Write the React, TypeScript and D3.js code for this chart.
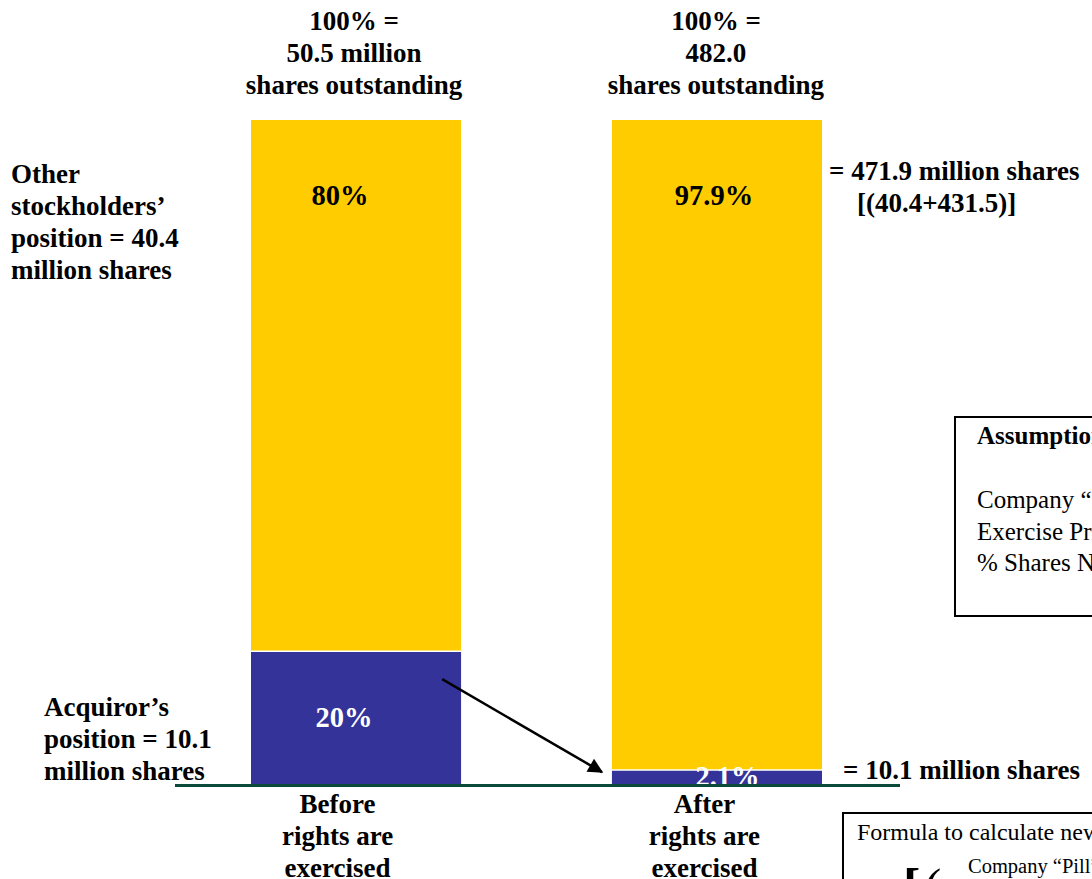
import React from "react";
import * as d3 from "d3";

// ---------- data ----------
const stages = ["Before", "After"];
const otherPct = [80, 97.9];
const acquirorPct = [20, 2.1];
const otherLabels = ["80%", "97.9%"];
const acquirorLabels = ["20%", "2.1%"];
const headerLines = [
  ["100% =", "50.5 million", "shares outstanding"],
  ["100% =", "482.0", "shares outstanding"],
];
const footerLines = [
  ["Before", "rights are", "exercised"],
  ["After", "rights are", "exercised"],
];
const leftOtherLines = ["Other", "stockholders’", "position = 40.4", "million shares"];
const leftAcqLines = ["Acquiror’s", "position = 10.1", "million shares"];
const rightOtherLines = ["= 471.9 million shares", "[(40.4+431.5)]"];
const rightAcqLine = "= 10.1 million shares";
const assumptionTitle = "Assumptions";
const assumptionLines = [
  "Company “Pill” Price = $10",
  "Exercise Price = $50",
  "% Shares Not Tendered",
];
const formulaTitle = "Formula to calculate new shares";
const formulaSub = "Company “Pill” Price";

const YELLOW = "#FFCC00";
const BLUE = "#333399";
const FONT = "'Liberation Serif', 'Times New Roman', serif";

export default function App() {
  const W = 1092;
  const H = 879;

  const x = d3.scaleBand<string>().domain(stages).range([251, 822]).paddingInner(0.418).paddingOuter(0);
  const y = d3.scaleLinear().domain([0, 100]).range([784, 120]);
  const bw = x.bandwidth();

  const rows = stages.map((s, i) => ({ stage: s, acquiror: acquirorPct[i], other: otherPct[i] }));
  const series = d3.stack<any>().keys(["acquiror", "other"])(rows);

  // layout tweaks (text offsets relative to bar centers)
  const headerDx = [-2, -1];
  const footerDx = [-18.5, -12.5];
  const otherDx = [-16, -3];
  const acqDx = [-12, 10.5];

  const cx = (i: number) => (x(stages[i]) as number) + bw / 2;

  const arrowStart: [number, number] = [(x(stages[0]) as number) + bw * 0.91, y(acquirorPct[0]) + 28];
  const arrowEnd: [number, number] = [(x(stages[1]) as number) - 10, y(acquirorPct[1]) + 2];

  const bold = { fontFamily: FONT, fontWeight: 700, fontSize: 27, fill: "#000" } as const;
  const lh = 32;

  return (
    <svg
      width={W}
      height={H}
      viewBox={`0 0 ${W} ${H}`}
      style={{ position: "absolute", left: 0, top: 0, display: "block", background: "#fff" }}
    >
      <defs>
        <marker
          id="arrowHead"
          viewBox="0 0 10 10"
          refX="9"
          refY="5"
          markerWidth="7"
          markerHeight="6"
          markerUnits="strokeWidth"
          orient="auto"
        >
          <path d="M0,0 L10,5 L0,10 Z" fill="#000" />
        </marker>
      </defs>

      {/* bars */}
      {series.map((ser) =>
        ser.map((d, i) => (
          <rect
            key={ser.key + i}
            x={x(stages[i]) as number}
            y={y(d[1])}
            width={bw}
            height={Math.max(0, y(d[0]) - y(d[1]))}
            fill={ser.key === "other" ? YELLOW : BLUE}
          />
        ))
      )}
      {/* white separators between segments */}
      {stages.map((s, i) => (
        <line
          key={"sep" + i}
          x1={x(s) as number}
          x2={(x(s) as number) + bw}
          y1={y(acquirorPct[i])}
          y2={y(acquirorPct[i])}
          stroke="#fff"
          strokeWidth={1.5}
        />
      ))}

      {/* segment labels */}
      {stages.map((s, i) => (
        <text key={"ol" + i} x={cx(i) + otherDx[i]} y={y(100) + 85} textAnchor="middle" style={{ ...bold, fontSize: 28.5 }}>
          {otherLabels[i]}
        </text>
      ))}
      {stages.map((s, i) => (
        <text
          key={"al" + i}
          x={cx(i) + acqDx[i]}
          y={(y(0) + y(acquirorPct[i])) / 2 + 9}
          textAnchor="middle"
          style={{ ...bold, fontSize: 28.5, fill: "#fff" }}
        >
          {acquirorLabels[i]}
        </text>
      ))}

      {/* baseline */}
      <line x1={175} x2={900} y1={785.5} y2={785.5} stroke="#0B4A3A" strokeWidth={3} />

      {/* arrow */}
      <line
        x1={arrowStart[0]}
        y1={arrowStart[1]}
        x2={arrowEnd[0]}
        y2={arrowEnd[1]}
        stroke="#000"
        strokeWidth={2.5}
        markerEnd="url(#arrowHead)"
      />

      {/* headers */}
      {headerLines.map((lines, i) => (
        <text key={"h" + i} x={cx(i) + headerDx[i]} y={30} textAnchor="middle" style={bold}>
          {lines.map((t, j) => (
            <tspan key={j} x={cx(i) + headerDx[i]} dy={j === 0 ? 0 : lh}>
              {t}
            </tspan>
          ))}
        </text>
      ))}

      {/* footers */}
      {footerLines.map((lines, i) => (
        <text key={"f" + i} x={cx(i) + footerDx[i]} y={813} textAnchor="middle" style={bold}>
          {lines.map((t, j) => (
            <tspan key={j} x={cx(i) + footerDx[i]} dy={j === 0 ? 0 : lh}>
              {t}
            </tspan>
          ))}
        </text>
      ))}

      {/* left labels */}
      <text x={11} y={183} style={bold}>
        {leftOtherLines.map((t, j) => (
          <tspan key={j} x={11} dy={j === 0 ? 0 : lh}>
            {t}
          </tspan>
        ))}
      </text>
      <text x={44} y={716} style={bold}>
        {leftAcqLines.map((t, j) => (
          <tspan key={j} x={44} dy={j === 0 ? 0 : lh}>
            {t}
          </tspan>
        ))}
      </text>

      {/* right labels */}
      <text x={829} y={180} style={bold}>
        {rightOtherLines[0]}
      </text>
      <text x={857} y={212} style={bold}>
        {rightOtherLines[1]}
      </text>
      <text x={843} y={779} style={bold}>
        {rightAcqLine}
      </text>

      {/* assumptions box */}
      <rect x={955} y={417} width={200} height={199} fill="none" stroke="#000" strokeWidth={2} />
      <text x={977} y={444} style={{ fontFamily: FONT, fontWeight: 700, fontSize: 25 }}>
        {assumptionTitle}
      </text>
      {assumptionLines.map((t, j) => (
        <text key={"as" + j} x={977} y={508 + j * 31.5} style={{ fontFamily: FONT, fontSize: 25 }}>
          {t}
        </text>
      ))}

      {/* formula box */}
      <rect x={843} y={813} width={300} height={120} fill="none" stroke="#000" strokeWidth={2} />
      <text x={857} y={840} style={{ fontFamily: FONT, fontSize: 24 }}>
        {formulaTitle}
      </text>
      <text x={968} y={873} style={{ fontFamily: FONT, fontSize: 20.5 }}>
        {formulaSub}
      </text>
      <text x={903} y={905} style={{ fontFamily: FONT, fontSize: 52, fontWeight: 700 }}>
        [
      </text>
      <text x={924} y={905} style={{ fontFamily: FONT, fontSize: 52 }}>
        (
      </text>
    </svg>
  );
}
